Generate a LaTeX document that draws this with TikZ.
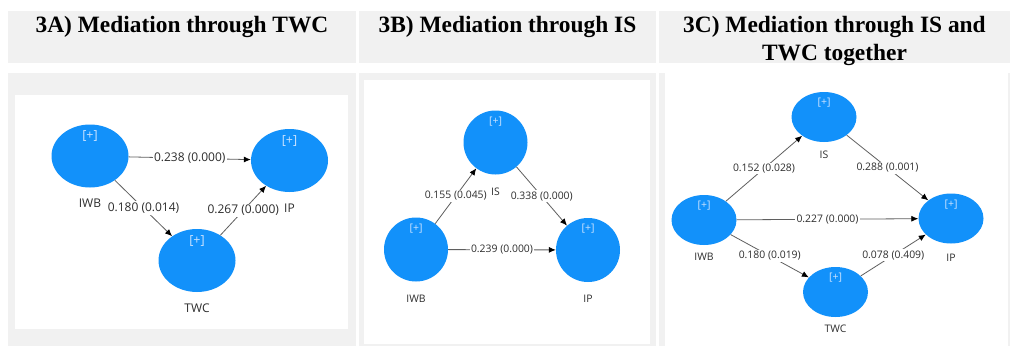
\documentclass[tikz,border=0pt]{standalone}
\usepackage{fontspec}
\setmainfont{Liberation Serif}
\newfontfamily\uifont{Open Sans}
\usetikzlibrary{shapes.geometric,arrows.meta}
\definecolor{panelgray}{RGB}{241,241,241}
\definecolor{nodeblue}{RGB}{18,145,250}
\definecolor{plusblue}{RGB}{205,228,255}
\definecolor{txtgray}{RGB}{45,45,45}
\definecolor{linegray}{RGB}{95,95,95}
\begin{document}
\begin{tikzpicture}[x=1pt,y=-1pt,
  hdr/.style={font=\bfseries\fontsize{23.4}{28}\selectfont, anchor=base, align=center, inner sep=0},
  lv/.style={ellipse, fill=nodeblue, inner sep=0},
  lvA/.style={lv, minimum width=77pt, minimum height=63pt},
  lvB/.style={lv, minimum width=64pt, minimum height=64pt},
  lvC/.style={lv, minimum width=65pt, minimum height=50pt},
  plusA/.style={text=plusblue, inner sep=0, font=\uifont\fontsize{12.5}{12.5}\selectfont},
  plusC/.style={text=plusblue, inner sep=0, font=\uifont\fontsize{10.5}{10.5}\selectfont},
  nmA/.style={text=txtgray, inner sep=0, font=\uifont\fontsize{12}{12}\selectfont},
  nmC/.style={text=txtgray, inner sep=0, font=\uifont\fontsize{10.4}{10.4}\selectfont},
  edge/.style={draw=linegray, line width=0.8pt, -{Latex[length=7pt,width=6pt,color=black]}},
  elabA/.style={midway, fill=white, text=txtgray, inner sep=1.5pt, font=\uifont\fontsize{12}{12}\selectfont},
  elabC/.style={midway, fill=white, text=txtgray, inner sep=1.2pt, font=\uifont\fontsize{10.4}{10.4}\selectfont}
]
\useasboundingbox (0,0) rectangle (1012,346);
\fill[white] (0,0) rectangle (1012,346);
% header cells
\fill[panelgray] (8,11) rectangle (356,63);
\fill[panelgray] (359,11) rectangle (656,63);
\fill[panelgray] (659,11) rectangle (1010,63);
\node[hdr] (h1) at (182,32) {3A) Mediation through TWC};
\node[hdr] (h2) at (507.5,32) {3B) Mediation through IS};
\node[hdr] (h3) at (834.5,60) {3C) Mediation through IS and\\TWC together};
% body panels
\fill[panelgray] (8,73) rectangle (356,346);
\fill[white] (15,95) rectangle (348,329);
\fill[panelgray] (359,73) rectangle (656,346);
\fill[white] (364,80) rectangle (650,344);
\fill[panelgray] (659,73) rectangle (1010,346);
\fill[white] (665,73) rectangle (1008,346);

% ---- Panel A
\node[lvA] (a1) at (90,156) {};
\node[lvA] (a2) at (289.5,160.5) {};
\node[lvA] (a3) at (197,260.5) {};
\node[plusA] (a1p) at ([yshift=-12pt]a1.north) {[+]};
\node[plusA] (a2p) at ([yshift=-12pt]a2.north) {[+]};
\node[plusA] (a3p) at ([yshift=-12pt]a3.north) {[+]};
\node[nmA] (a1n) at ([yshift=-16pt]a1.south) {IWB};
\node[nmA] (a2n) at ([yshift=-16pt]a2.south) {IP};
\node[nmA] (a3n) at ([yshift=-16pt]a3.south) {TWC};
\draw[edge] (a1) -- node[elabA] (a12) {0.238 (0.000)} (a2);
\draw[edge] (a1) -- node[elabA] (a13) {0.180 (0.014)} (a3);
\draw[edge] (a3) -- node[elabA] (a32) {0.267 (0.000)} (a2);

% ---- Panel B
\node[lvB] (b1) at (495.5,142.5) {};
\node[lvB] (b2) at (416,249.5) {};
\node[lvB] (b3) at (588,250) {};
\node[plusC] (b1p) at ([yshift=-11pt]b1.north) {[+]};
\node[plusC] (b2p) at ([yshift=-11pt]b2.north) {[+]};
\node[plusC] (b3p) at ([yshift=-11pt]b3.north) {[+]};
\node[nmC] (b1n) at ([yshift=-17pt]b1.south) {IS};
\node[nmC] (b2n) at ([yshift=-17pt]b2.south) {IWB};
\node[nmC] (b3n) at ([yshift=-17pt]b3.south) {IP};
\draw[edge] (b2) -- node[elabC] (b21) {0.155 (0.045)} (b1);
\draw[edge] (b1) -- node[elabC] (b13) {0.338 (0.000)} (b3);
\draw[edge] (b2) -- node[elabC] (b23) {0.239 (0.000)} (b3);

% ---- Panel C
\node[lvC] (c1) at (824,117) {};
\node[lvC] (c2) at (704,220) {};
\node[lvC] (c3) at (951,218.5) {};
\node[lvC] (c4) at (835.5,292) {};
\node[plusC] (c1p) at ([yshift=-11pt]c1.north) {[+]};
\node[plusC] (c2p) at ([yshift=-11pt]c2.north) {[+]};
\node[plusC] (c3p) at ([yshift=-11pt]c3.north) {[+]};
\node[plusC] (c4p) at ([yshift=-11pt]c4.north) {[+]};
\node[nmC] (c1n) at ([yshift=-13pt]c1.south) {IS};
\node[nmC] (c2n) at ([yshift=-12pt]c2.south) {IWB};
\node[nmC] (c3n) at ([yshift=-14pt]c3.south) {IP};
\node[nmC] (c4n) at ([yshift=-12pt]c4.south) {TWC};
\draw[edge] (c2) -- node[elabC] (c21) {0.152 (0.028)} (c1);
\draw[edge] (c1) -- node[elabC] (c13) {0.288 (0.001)} (c3);
\draw[edge] (c2) -- node[elabC] (c23) {0.227 (0.000)} (c3);
\draw[edge] (c2) -- node[elabC] (c24) {0.180 (0.019)} (c4);
\draw[edge] (c4) -- node[elabC] (c43) {0.078 (0.409)} (c3);
\end{tikzpicture}
\end{document}
